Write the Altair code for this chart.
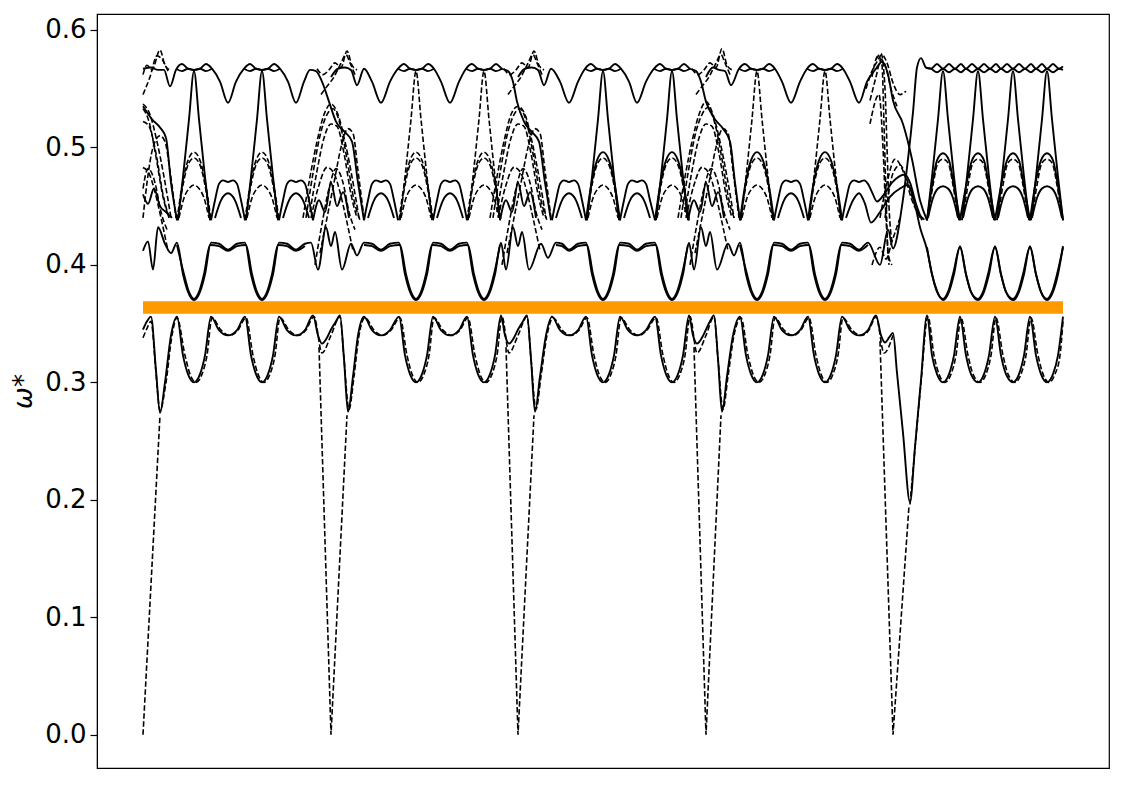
import altair as alt
import pandas as pd

# ---------------- axis / frame values ----------------
X_DOMAIN = [97, 1109]
Y_DOMAIN = [-0.0283, 0.6136]
Y_TICKS = [0.0, 0.1, 0.2, 0.3, 0.4, 0.5, 0.6]
ORANGE_X = [143, 1063]
ORANGE_Y = [0.3585, 0.3690]

# ---------------- top band (solid) ----------------
top_s1 = [[143,.567],[151,.568],[158,.566],[164,.566],[170,.552],[176,.566],[182,.571],[188,.567],[194,.566],[200,.567],[206,.571],[212,.567],[220,.556],[228,.538],[236,.556],[244,.567],[250,.571],[256,.567],[262,.566],[268,.567],[274,.571],[280,.567],[288,.556],[296,.538],[304,.556],[310,.566],[316,.565],[322,.556],[329,.539],[336,.522],[345,.513],[352,.505],[358,.470],[364,.438]]
top_s2 = [[331,.560],[338,.567],[345,.568],[351,.566],[357,.553],[364,.567],[372,.556],[381,.538],[390,.556],[398,.567],[404,.571],[410,.567],[416,.566],[422,.567],[428,.571],[434,.567],[441,.556],[450,.538],[459,.556],[466,.567],[472,.571],[478,.567],[484,.566],[490,.567],[496,.571],[502,.567],[508,.565],[513,.556],[517,.539],[524,.522],[532,.513],[539,.505],[545,.470],[551,.438]]
top_s3 = [[518,.560],[525,.567],[532,.568],[538,.566],[544,.553],[551,.567],[560,.556],[569,.538],[578,.556],[585,.567],[591,.571],[597,.567],[603,.566],[609,.567],[615,.571],[621,.567],[629,.556],[637,.538],[646,.556],[654,.567],[660,.571],[666,.567],[672,.566],[678,.567],[684,.571],[690,.567],[696,.565],[701,.556],[706,.539],[714,.525],[723,.516],[730,.505],[735,.470],[740,.438]]
top_s4 = [[706,.560],[713,.568],[719,.566],[725,.565],[731,.553],[739,.567],[745,.571],[751,.567],[757,.566],[763,.567],[769,.571],[775,.567],[782,.556],[791,.538],[800,.556],[807,.567],[813,.571],[819,.567],[825,.566],[831,.567],[837,.571],[843,.567],[850,.556],[859,.538],[867,.556],[876,.567],[882,.573],[888,.562],[893,.540],[903,.520],[912,.490],[920,.455],[927,.438]]
top_eye_a = [[926,.568],[931,.567],[937,.564],[943,.567],[949,.564],[955,.567],[961,.564],[966,.567],[972,.564],[978,.567],[984,.564],[990,.567],[996,.564],[1001,.567],[1007,.564],[1013,.567],[1019,.564],[1025,.567],[1031,.564],[1036,.567],[1042,.564],[1047,.567],[1053,.564],[1059,.567],[1063,.566]]
eye_194 = [[176,.567],[182,.565],[188,.567],[194,.566],[200,.567],[206,.565],[212,.567]]
eye_262 = [[244,.567],[250,.565],[256,.567],[262,.566],[268,.567],[274,.565],[280,.567]]
eye_416 = [[398,.567],[404,.565],[410,.567],[416,.566],[422,.567],[428,.565],[434,.567]]
eye_484 = [[466,.567],[472,.565],[478,.567],[484,.566],[490,.567],[496,.565],[502,.567]]
eye_603 = [[585,.567],[591,.565],[597,.567],[603,.566],[609,.567],[615,.565],[621,.567]]
eye_672 = [[654,.567],[660,.565],[666,.567],[672,.566],[678,.567],[684,.565],[690,.567]]
eye_757 = [[739,.567],[745,.565],[751,.567],[757,.566],[763,.567],[769,.565],[775,.567]]
eye_825 = [[807,.567],[813,.565],[819,.567],[825,.566],[831,.567],[837,.565],[843,.567]]

# ---------------- middle band (solid) ----------------
mid_main = [[143,.412],[148,.420],[153,.396],[158,.432],[165,.418],[171,.410],[177,.419],
    [183,.392],[188,.377],[194,.370],[200,.377],[205,.392],[211,.419],[219,.418],[228,.413],[237,.418],[245,.419],
    [251,.392],[256,.377],[262,.370],[268,.377],[273,.392],[279,.419],[287,.418],[296,.413],[305,.418],
    [311,.419],[318,.396],[326,.432],[331,.416],[335,.428],[342,.396],[351,.418],[357,.408],[364,.419],
    [372,.418],[381,.413],[390,.418],[399,.419],[405,.392],[410,.377],[416,.370],[422,.377],[427,.392],[433,.419],
    [441,.418],[450,.413],[459,.418],[467,.419],[473,.392],[478,.377],[484,.370],[490,.377],[495,.392],[501,.419],
    [506,.396],[513,.432],[518,.416],[522,.428],[529,.396],[541,.418],[548,.406],[556,.419],
    [562,.418],[569,.413],[578,.418],[586,.419],[592,.392],[597,.377],[603,.370],[609,.377],[614,.392],[620,.419],
    [629,.418],[637,.413],[646,.418],[655,.419],[661,.392],[666,.377],[672,.370],[678,.377],[683,.392],[689,.419],
    [694,.396],[701,.432],[706,.416],[710,.428],[717,.396],[728,.418],[734,.408],[740,.419],
    [746,.392],[751,.377],[757,.370],[763,.377],[768,.392],[774,.419],[782,.418],[791,.413],[800,.418],[808,.419],
    [814,.392],[819,.377],[825,.370],[831,.377],[836,.392],[842,.419],[850,.418],[859,.413],[868,.419],
    [880,.400],[888,.430],[893,.414],[902,.450],[908,.490],[913,.530],[917,.568],[921,.576],[926,.568],
    [931,.567],[937,.571],[943,.567],[949,.571],[955,.567],[961,.571],[966,.567],[972,.571],[978,.567],[984,.571],
    [990,.567],[996,.571],[1001,.567],[1007,.571],[1013,.567],[1019,.571],[1025,.567],[1031,.571],[1036,.567],
    [1042,.571],[1047,.567],[1053,.571],[1059,.567],[1063,.569]]
mid_s1 = [[177,.417],[184,.392],[189,.377],[194,.371],[199,.377],[204,.392],[210,.417],[219,.416],[228,.412],[237,.416],[246,.417],[252,.392],[257,.377],[262,.371],[267,.377],[272,.392],[278,.417],[287,.416],[296,.412],[305,.416]]
mid_s2 = [[364,.417],[372,.416],[381,.412],[390,.416],[400,.417],[406,.392],[411,.377],[416,.371],[421,.377],[426,.392],[432,.417],[441,.416],[450,.412],[459,.416],[468,.417],[474,.392],[479,.377],[484,.371],[489,.377],[494,.392],[500,.417]]
mid_s3 = [[556,.417],[562,.416],[569,.412],[578,.416],[587,.417],[593,.392],[598,.377],[603,.371],[608,.377],[613,.392],[619,.417],[629,.416],[637,.412],[646,.416],[656,.417],[662,.392],[667,.377],[672,.371],[677,.377],[682,.392],[688,.417]]
mid_s4 = [[740,.417],[747,.392],[752,.377],[757,.371],[762,.377],[767,.392],[773,.417],[782,.416],[791,.412],[800,.416],[809,.417],[815,.392],[820,.377],[825,.371],[830,.377],[835,.392],[841,.417],[850,.416],[859,.412],[868,.417]]
mid_s5 = [[927,.415],[932,.392],[937,.377],[943,.371],[948,.377],[953,.392],[960,.415],[966,.392],[971,.377],[978,.371],[983,.377],[988,.392],[995,.415],[1001,.392],[1006,.377],[1013,.371],[1018,.377],[1023,.392],[1030,.415],[1036,.392],[1041,.377],[1047,.371],[1052,.377],[1057,.392],[1063,.415]]
mid_fall5 = [[846,.440],[853,.455],[859,.461],[865,.452],[871,.436],[880,.445],[890,.458],[900,.465],[908,.468],[914,.455],[920,.432],[927,.413],[932,.392],[937,.378],[943,.370],[949,.377],[954,.392],[960,.416],[966,.392],[971,.377],[978,.370],[984,.377],[989,.392],[995,.416],[1001,.392],[1006,.377],[1013,.370],[1019,.377],[1024,.392],[1030,.416],[1036,.392],[1041,.377],[1047,.370],[1053,.377],[1058,.392],[1063,.416]]

# ---------------- lower band ----------------
low_solid = [[143,.345],[147,.352],[151,.356],[156,.310],[160,.274],[165,.300],[171,.340],[177,.356],
    [183,.323],[188,.307],[194,.300],[200,.307],[205,.323],[211,.356],[219,.3445],[228,.340],[237,.3445],[245,.356],
    [251,.323],[256,.307],[262,.300],[268,.307],[273,.323],[279,.356],[287,.3445],[296,.340],[305,.3445],[313,.357],
    [318,.340],[322,.333],[327,.338],[331,.345],[336,.352],[340,.357],[344,.320],[348,.275],[353,.305],[358,.340],[364,.356],
    [372,.3445],[381,.340],[390,.3445],[399,.356],[405,.323],[410,.307],[416,.300],[422,.307],[427,.323],[433,.356],
    [441,.3445],[450,.340],[459,.3445],[467,.356],[473,.323],[478,.307],[484,.300],[490,.307],[495,.323],[501,.357],
    [505,.340],[509,.333],[514,.338],[518,.345],[523,.352],[527,.357],[531,.320],[535,.275],[540,.305],[546,.340],[552,.356],
    [560,.3445],[569,.340],[578,.3445],[586,.356],[592,.323],[597,.307],[603,.300],[609,.307],[614,.323],[620,.356],
    [628,.3445],[637,.340],[646,.3445],[655,.356],[661,.323],[666,.307],[672,.300],[678,.307],[683,.323],[689,.357],
    [693,.340],[697,.333],[702,.338],[706,.345],[710,.352],[714,.357],[718,.320],[722,.275],[727,.305],[733,.340],[740,.356],
    [746,.323],[751,.307],[757,.300],[763,.307],[768,.323],[774,.356],[782,.3445],[791,.340],[800,.3445],[808,.356],
    [814,.323],[819,.307],[825,.300],[831,.307],[836,.323],[842,.356],[850,.3445],[859,.340],[868,.3445],[876,.357],
    [881,.340],[885,.334],[889,.338],[893,.342],[897,.308],[903,.257],[910,.198],[915,.245],[921,.302],[927,.357],
    [932,.323],[937,.307],[943,.300],[949,.307],[954,.323],[960,.356],[966,.323],[971,.307],[978,.300],[984,.307],[989,.323],[995,.356],
    [1001,.323],[1006,.307],[1013,.300],[1019,.307],[1024,.323],[1030,.356],[1036,.323],[1041,.307],[1047,.300],[1053,.307],[1058,.323],[1063,.356]]
low_dash = [[143,.338],[147,.346],[151,.352],[156,.308],[160,.276],[166,.300],[172,.340],[177,.355],
    [185,.323],[190,.307],[196,.300],[202,.307],[207,.323],[212,.355],[221,.3445],[230,.340],[238,.3445],[246,.355],
    [253,.323],[258,.307],[264,.300],[270,.307],[275,.323],[280,.355],[289,.3445],[298,.340],[306,.3445],[314,.356],
    [322,.325],[331,.340],[340,.356],[344,.320],[349,.277],[354,.305],[359,.340],[365,.355],
    [374,.3445],[383,.340],[391,.3445],[400,.355],[407,.323],[412,.307],[418,.300],[424,.307],[429,.323],[434,.355],
    [443,.3445],[452,.340],[460,.3445],[468,.355],[475,.323],[480,.307],[486,.300],[492,.307],[497,.323],[502,.356],
    [509,.325],[518,.340],[527,.356],[531,.320],[536,.277],[541,.305],[547,.340],[553,.355],
    [562,.3445],[571,.340],[579,.3445],[587,.355],[594,.323],[599,.307],[605,.300],[611,.307],[616,.323],[621,.355],
    [630,.3445],[639,.340],[647,.3445],[656,.355],[663,.323],[668,.307],[674,.300],[680,.307],[685,.323],[690,.356],
    [697,.325],[706,.340],[714,.356],[718,.320],[723,.277],[728,.305],[734,.340],[741,.355],
    [748,.323],[753,.307],[759,.300],[765,.307],[770,.323],[775,.355],[784,.3445],[793,.340],[801,.3445],[809,.355],
    [816,.323],[821,.307],[827,.300],[833,.307],[838,.323],[843,.355],[852,.3445],[861,.340],[869,.3445],[876,.356],
    [884,.325],[893,.340]]
low_dash5 = [[910,.196],[915,.244],[921,.300],[928,.356],[934,.323],[939,.307],[945,.300],[951,.307],[956,.323],[961,.355],
    [968,.323],[973,.307],[980,.300],[986,.307],[991,.323],[996,.355],[1003,.323],[1008,.307],[1015,.300],[1021,.307],[1026,.323],[1031,.355],
    [1038,.323],[1043,.307],[1049,.300],[1055,.307],[1060,.323],[1063,.352]]

# dashed lines falling to zero at each section start (straight)
drop_1 = [[143,0.0],[160,.272]]
drop_2 = [[319,.330],[331,0.0],[347,.272]]
drop_3 = [[506,.330],[518,0.0],[534,.272]]
drop_4 = [[694,.330],[706,0.0],[721,.272]]
drop_5 = [[880,.335],[893,0.0],[909,.195]]

# ---------------- narrow peaks ----------------
np_194 = [[178,.438],[183,.475],[189,.524],[194,.565],[199,.524],[205,.475],[210,.438]]
np_262 = [[246,.438],[251,.475],[257,.524],[262,.565],[267,.524],[273,.475],[278,.438]]
np_416 = [[400,.438],[405,.475],[411,.524],[416,.565],[421,.524],[427,.475],[432,.438]]
np_484 = [[468,.438],[473,.475],[479,.524],[484,.565],[489,.524],[495,.475],[500,.438]]
np_603 = [[587,.438],[592,.475],[598,.524],[603,.565],[608,.524],[614,.475],[619,.438]]
np_672 = [[656,.438],[661,.475],[667,.524],[672,.565],[677,.524],[683,.475],[688,.438]]
np_757 = [[741,.438],[746,.475],[752,.524],[757,.565],[762,.524],[768,.475],[773,.438]]
np_825 = [[809,.438],[814,.475],[820,.524],[825,.565],[830,.524],[836,.475],[841,.438]]
np_943 = [[927,.438],[932,.475],[938,.524],[943,.565],[948,.524],[954,.475],[959,.438]]
np_978 = [[962,.438],[967,.475],[973,.524],[978,.565],[983,.524],[989,.475],[994,.438]]
np_1013 = [[997,.438],[1002,.475],[1008,.524],[1013,.565],[1018,.524],[1024,.475],[1029,.438]]
np_1047 = [[1031,.438],[1036,.475],[1042,.524],[1047,.565],[1052,.524],[1058,.475],[1063,.438]]

# ---------------- arches (upper middle) ----------------
ua1_194 = [[177,.438],[182,.467],[188,.489],[194,.496],[200,.489],[206,.467],[211,.438]]
ua1_262 = [[245,.438],[250,.467],[256,.489],[262,.496],[268,.489],[274,.467],[279,.438]]
ua1_416 = [[399,.438],[404,.467],[410,.489],[416,.496],[422,.489],[428,.467],[433,.438]]
ua1_484 = [[467,.438],[472,.467],[478,.489],[484,.496],[490,.489],[496,.467],[501,.438]]
ua1_603 = [[586,.438],[591,.467],[597,.489],[603,.496],[609,.489],[615,.467],[620,.438]]
ua1_672 = [[655,.438],[660,.467],[666,.489],[672,.496],[678,.489],[684,.467],[689,.438]]
ua1_757 = [[740,.438],[745,.467],[751,.489],[757,.496],[763,.489],[769,.467],[774,.438]]
ua1_825 = [[808,.438],[813,.467],[819,.489],[825,.496],[831,.489],[837,.467],[842,.438]]
ua1_943 = [[927,.438],[932,.467],[937,.489],[943,.495],[949,.489],[954,.467],[960,.438]]
ua1_978 = [[960,.438],[966,.467],[972,.489],[978,.495],[984,.489],[989,.467],[995,.438]]
ua1_1013 = [[995,.438],[1001,.467],[1007,.489],[1013,.495],[1019,.489],[1024,.467],[1030,.438]]
ua1_1047 = [[1030,.438],[1035,.467],[1041,.489],[1047,.495],[1053,.489],[1058,.467],[1063,.438]]

ua2_194 = [[178,.440],[183,.468],[189,.487],[194,.491],[199,.487],[205,.468],[210,.440]]
ua2_262 = [[246,.440],[251,.468],[257,.487],[262,.491],[267,.487],[273,.468],[278,.440]]
ua2_416 = [[400,.440],[405,.468],[411,.487],[416,.491],[421,.487],[427,.468],[432,.440]]
ua2_484 = [[468,.440],[473,.468],[479,.487],[484,.491],[489,.487],[495,.468],[500,.440]]
ua2_603 = [[587,.440],[592,.468],[598,.487],[603,.491],[608,.487],[614,.468],[619,.440]]
ua2_672 = [[656,.440],[661,.468],[667,.487],[672,.491],[677,.487],[683,.468],[688,.440]]
ua2_757 = [[741,.440],[746,.468],[752,.487],[757,.491],[762,.487],[768,.468],[773,.440]]
ua2_825 = [[809,.440],[814,.468],[820,.487],[825,.491],[830,.487],[836,.468],[841,.440]]
ua2_943 = [[928,.440],[933,.468],[938,.487],[943,.490],[948,.487],[953,.468],[958,.440]]
ua2_978 = [[963,.440],[968,.468],[973,.487],[978,.490],[983,.487],[988,.468],[993,.440]]
ua2_1013 = [[998,.440],[1003,.468],[1008,.487],[1013,.490],[1018,.487],[1023,.468],[1028,.440]]
ua2_1047 = [[1032,.440],[1037,.468],[1042,.487],[1047,.490],[1052,.487],[1057,.468],[1062,.440]]

ua3_194 = [[179,.440],[184,.457],[189,.465],[194,.468],[199,.465],[204,.457],[209,.440]]
ua3_262 = [[247,.440],[252,.457],[257,.465],[262,.468],[267,.465],[272,.457],[277,.440]]
ua3_416 = [[401,.440],[406,.457],[411,.465],[416,.468],[421,.465],[426,.457],[431,.440]]
ua3_484 = [[469,.440],[474,.457],[479,.465],[484,.468],[489,.465],[494,.457],[499,.440]]
ua3_603 = [[588,.440],[593,.457],[598,.465],[603,.468],[608,.465],[613,.457],[618,.440]]
ua3_672 = [[657,.440],[662,.457],[667,.465],[672,.468],[677,.465],[682,.457],[687,.440]]
ua3_757 = [[742,.440],[747,.457],[752,.465],[757,.468],[762,.465],[767,.457],[772,.440]]
ua3_825 = [[810,.440],[815,.457],[820,.465],[825,.468],[830,.465],[835,.457],[840,.440]]
ua3_943 = [[928,.440],[933,.457],[938,.465],[943,.467],[948,.465],[953,.457],[958,.440]]
ua3_978 = [[963,.440],[968,.457],[973,.465],[978,.467],[983,.465],[988,.457],[993,.440]]
ua3_1013 = [[998,.440],[1003,.457],[1008,.465],[1013,.467],[1018,.465],[1023,.457],[1028,.440]]
ua3_1047 = [[1032,.440],[1037,.457],[1042,.465],[1047,.467],[1052,.465],[1057,.457],[1062,.440]]

# flat tops and bumps (solid)
ub1_228 = [[211,.438],[215,.455],[219,.469],[223,.472],[228,.4705],[233,.472],[237,.469],[241,.455],[245,.438]]
ub1_296 = [[279,.438],[283,.455],[287,.469],[291,.472],[296,.4705],[301,.472],[305,.469],[309,.455],[313,.438]]
ub1_381 = [[364,.438],[368,.455],[372,.469],[376,.472],[381,.4705],[386,.472],[390,.469],[394,.455],[398,.438]]
ub1_450 = [[433,.438],[437,.455],[441,.469],[445,.472],[450,.4705],[455,.472],[459,.469],[463,.455],[467,.438]]
ub1_569 = [[552,.438],[556,.455],[560,.469],[564,.472],[569,.4705],[574,.472],[578,.469],[582,.455],[586,.438]]
ub1_637 = [[620,.438],[624,.455],[628,.469],[632,.472],[637,.4705],[642,.472],[646,.469],[650,.455],[655,.438]]
ub1_791 = [[774,.438],[778,.455],[782,.469],[786,.472],[791,.4705],[796,.472],[800,.469],[804,.455],[808,.438]]
ub1_859 = [[842,.438],[846,.455],[850,.469],[854,.472],[859,.4705],[864,.472],[868,.469],[872,.462],[877,.454],[884,.460],[892,.470],[905,.477],[910,.470],[916,.452],[922,.438]]
ub2_228 = [[215,.440],[221,.455],[228,.461],[235,.455],[241,.440]]
ub2_296 = [[283,.440],[289,.455],[296,.461],[303,.455],[309,.440]]
ub2_381 = [[368,.440],[374,.455],[381,.461],[388,.455],[394,.440]]
ub2_450 = [[437,.440],[443,.455],[450,.461],[457,.455],[463,.440]]
ub2_569 = [[556,.440],[562,.455],[569,.461],[576,.455],[582,.440]]
ub2_637 = [[624,.440],[630,.455],[637,.461],[644,.455],[650,.440]]
ub2_791 = [[778,.440],[784,.455],[791,.461],[798,.455],[804,.440]]

# ---------------- section-start tangles ----------------
xs_143 = [[143,.535],[152,.524],[160,.517],[166,.508],[171,.470],[177,.438]]
zig_143 = [[143,.460],[148,.452],[154,.465],[160,.450],[166,.445],[172,.440]]
zig_331 = [[313,.438],[319,.455],[325,.445],[331,.470],[337,.450],[343,.462],[349,.440]]
zig_518 = [[500,.438],[506,.455],[512,.445],[518,.470],[524,.450],[530,.462],[536,.440]]
zig_706 = [[688,.438],[694,.455],[700,.445],[706,.470],[712,.450],[718,.462],[724,.440]]

ts_143a = [[143,.562],[147,.570],[152,.566],[160,.583],[165,.570],[170,.566]]
ts_143b = [[143,.545],[150,.560],[157,.578],[162,.575],[168,.565]]
xa_143a = [[143,.537],[150,.528],[157,.505],[164,.475],[171,.440]]
xa_143b = [[143,.533],[149,.522],[156,.492],[163,.458],[169,.440]]
xa_143c = [[143,.522],[149,.518],[156,.495],[163,.460],[169,.440]]
md_143a = [[143,.483],[149,.478],[155,.462],[161,.440],[168,.412]]
md_143b = [[143,.465],[148,.482],[155,.470],[161,.445],[167,.430]]
md_143c = [[143,.440],[147,.470],[153,.500],[160,.510],[165,.505],[170,.480],[176,.440]]

ts_331a = [[317,.567],[323,.562],[329,.566],[335,.572],[341,.568],[347,.582],[352,.570],[357,.566]]
ts_331b = [[321,.545],[327,.552],[334,.560],[340,.570],[346,.579],[350,.572],[355,.562]]
xa_331a = [[303,.440],[310,.475],[317,.505],[324,.528],[331,.537],[338,.528],[345,.505],[352,.475],[359,.440]]
xa_331b = [[306,.440],[313,.478],[320,.510],[327,.528],[333,.533],[340,.520],[347,.490],[354,.455],[360,.438]]
xa_331c = [[310,.445],[317,.480],[324,.508],[331,.520],[337,.518],[344,.495],[351,.460],[357,.440]]
md_331a = [[311,.440],[319,.468],[327,.483],[334,.478],[340,.462],[346,.440],[353,.412]]
md_331b = [[315,.400],[322,.435],[329,.465],[336,.482],[343,.470],[349,.445],[355,.430]]
md_331c = [[320,.410],[327,.440],[334,.470],[341,.500],[348,.516],[353,.512],[358,.480],[364,.440]]

ts_518a = [[504,.567],[510,.562],[516,.566],[522,.572],[528,.568],[534,.582],[539,.570],[544,.566]]
ts_518b = [[508,.545],[514,.552],[521,.560],[527,.570],[533,.579],[537,.572],[542,.562]]
xa_518a = [[490,.440],[497,.475],[504,.505],[511,.528],[518,.535],[525,.528],[532,.505],[539,.475],[546,.440]]
xa_518b = [[493,.440],[500,.478],[507,.510],[514,.528],[520,.533],[527,.520],[534,.490],[541,.455],[547,.438]]
xa_518c = [[497,.445],[504,.480],[511,.508],[518,.520],[524,.518],[531,.495],[538,.460],[544,.440]]
md_518a = [[498,.440],[506,.468],[514,.483],[521,.478],[527,.462],[533,.440],[540,.412]]
md_518b = [[502,.400],[509,.435],[516,.465],[523,.482],[530,.470],[536,.445],[542,.430]]
md_518c = [[507,.410],[514,.440],[521,.470],[528,.500],[535,.516],[540,.512],[545,.480],[551,.440]]

ts_706a = [[692,.567],[698,.562],[704,.566],[710,.572],[716,.568],[722,.584],[727,.570],[732,.566]]
ts_706b = [[696,.545],[702,.552],[709,.560],[715,.570],[721,.579],[725,.572],[730,.562]]
xa_706a = [[678,.440],[685,.475],[692,.505],[699,.528],[706,.539],[713,.528],[720,.505],[727,.475],[734,.440]]
xa_706b = [[681,.440],[688,.478],[695,.510],[702,.528],[708,.534],[715,.520],[722,.490],[729,.455],[735,.438]]
xa_706c = [[685,.445],[692,.480],[699,.508],[706,.520],[712,.518],[719,.495],[726,.460],[732,.440]]
md_706a = [[686,.440],[694,.468],[702,.483],[709,.478],[715,.462],[721,.440],[728,.412]]
md_706b = [[690,.400],[697,.435],[704,.465],[711,.482],[718,.470],[724,.445],[730,.430]]
md_706c = [[695,.410],[702,.440],[709,.470],[716,.500],[723,.516],[728,.512],[733,.480],[739,.440]]

v5_a = [[872,.560],[878,.578],[882,.570],[884,.520],[886,.460],[888,.410],[892,.400]]
v5_b = [[876,.575],[881,.580],[885,.550],[887,.500],[889,.450],[892,.420]]
v5_c = [[870,.520],[879,.545],[883,.500],[886,.440],[889,.400]]
v5_d = [[885,.440],[893,.478],[900,.485],[908,.470],[915,.450],[925,.438]]
v5_e = [[880,.440],[887,.470],[895,.490],[903,.480],[912,.455],[920,.440]]
v5_f = [[866,.550],[872,.565],[877,.573],[882,.579],[887,.572],[893,.555],[900,.545],[906,.548]]
v5_g = [[870,.540],[876,.560],[881,.575],[886,.568],[891,.550],[897,.535]]
v5_h = [[872,.400],[880,.415],[886,.405],[892,.420],[900,.440]]

SOLID = [top_s1, top_s2, top_s3, top_s4, top_eye_a,
         eye_194, eye_262, eye_416, eye_484, eye_603, eye_672, eye_757, eye_825,
         mid_main, mid_s1, mid_s2, mid_s3, mid_s4, mid_s5, mid_fall5, low_solid,
         np_194, np_262, np_603, np_672, np_943, np_978, np_1013, np_1047,
         ua1_603, ua1_672, ua1_757, ua1_825, ua1_943, ua1_978, ua1_1013, ua1_1047,
         ua3_943, ua3_978, ua3_1013, ua3_1047,
         ub1_228, ub1_296, ub1_381, ub1_450, ub1_569, ub1_637, ub1_791, ub1_859,
         ub2_228, ub2_296, ub2_381, ub2_450, ub2_569, ub2_637, ub2_791,
         xs_143, zig_143, zig_331, zig_518, zig_706]
DASHED = [low_dash, low_dash5,
          np_416, np_484, np_757, np_825,
          ua1_194, ua1_262, ua1_416, ua1_484,
          ua2_194, ua2_262, ua2_416, ua2_484, ua2_603, ua2_672, ua2_757, ua2_825,
          ua2_943, ua2_978, ua2_1013, ua2_1047,
          ua3_194, ua3_262, ua3_416, ua3_484, ua3_603, ua3_672, ua3_757, ua3_825,
          ts_143a, ts_143b, xa_143a, xa_143b, xa_143c, md_143a, md_143b, md_143c,
          ts_331a, ts_331b, xa_331a, xa_331b, xa_331c, md_331a, md_331b, md_331c,
          ts_518a, ts_518b, xa_518a, xa_518b, xa_518c, md_518a, md_518b, md_518c,
          ts_706a, ts_706b, xa_706a, xa_706b, xa_706c, md_706a, md_706b, md_706c,
          v5_a, v5_b, v5_c, v5_d, v5_e, v5_f, v5_g, v5_h]
DROPS = [drop_1, drop_2, drop_3, drop_4, drop_5]


def table(pieces, tag):
    rows = []
    for i, p in enumerate(pieces):
        for k, (x, y) in enumerate(p):
            rows.append({"x": x, "y": y, "piece": f"{tag}{i}", "k": k})
    return pd.DataFrame(rows)


xenc = alt.X("x:Q", scale=alt.Scale(domain=X_DOMAIN, nice=False, zero=False), axis=None)
yenc = alt.Y("y:Q", scale=alt.Scale(domain=Y_DOMAIN, nice=False, zero=False),
             axis=alt.Axis(values=Y_TICKS, format=".1f", grid=False, tickSize=7, tickWidth=1.2,
                           tickColor="black", domainColor="black", labelColor="black",
                           labelFontSize=26, labelFont="DejaVu Sans", labelPadding=4,
                           title="ω*", titleFontSize=26, titleFont="DejaVu Sans",
                           titleFontStyle="italic", titleFontWeight="normal",
                           titleColor="black", titlePadding=8))

solid = alt.Chart(table(SOLID, "s")).mark_line(
    interpolate="monotone", color="black", strokeWidth=1.9, clip=True
).encode(x=xenc, y=yenc, detail="piece:N", order="k:Q")

dashed = alt.Chart(table(DASHED, "d")).mark_line(
    interpolate="monotone", color="black", strokeWidth=1.6, strokeDash=[5.5, 2.5], clip=True
).encode(x=xenc, y=yenc, detail="piece:N", order="k:Q")

drops = alt.Chart(table(DROPS, "z")).mark_line(
    interpolate="linear", color="black", strokeWidth=1.6, strokeDash=[5.5, 2.5], clip=True
).encode(x=xenc, y=yenc, detail="piece:N", order="k:Q")

band = alt.Chart(pd.DataFrame({"x": [ORANGE_X[0]], "x2": [ORANGE_X[1]],
                               "y": [ORANGE_Y[0]], "y2": [ORANGE_Y[1]]})).mark_rect(
    color="#ff9900").encode(x=xenc, x2="x2:Q", y=yenc, y2="y2:Q")

chart = alt.layer(dashed, drops, solid, band).properties(
    width=1012, height=754,
    autosize=alt.AutoSizeParams(type="none"),
    padding={"left": 89, "top": 6, "right": 8, "bottom": 9},
).configure_view(stroke="black", strokeWidth=1.2)

chart.save("out.html", embed_options={"renderer": "svg", "actions": False})
